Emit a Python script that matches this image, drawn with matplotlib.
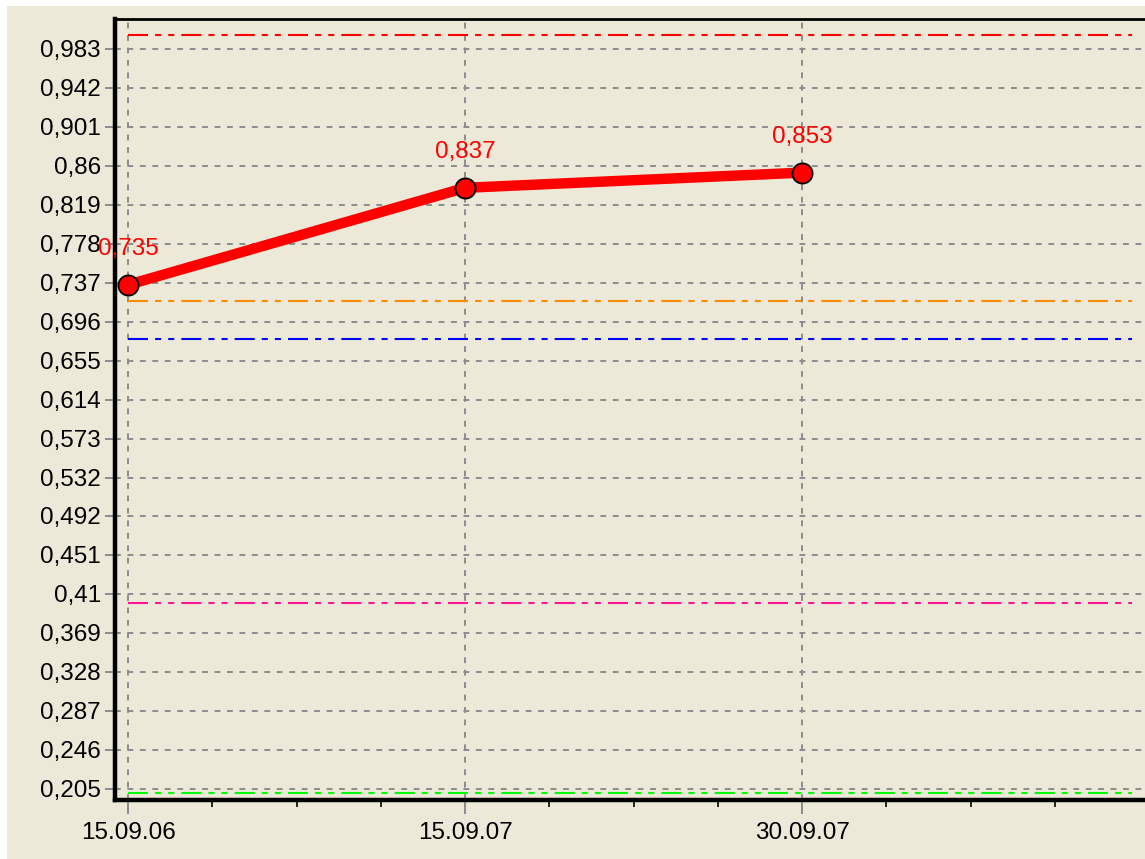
import matplotlib
matplotlib.use("Agg")
from matplotlib import pyplot as plt
from matplotlib.patches import Rectangle
from matplotlib.ticker import FixedLocator

# data
dates = ["15.09.06", "15.09.07", "30.09.07"]
values = [0.735, 0.837, 0.853]
ytick_values = [0.205, 0.246, 0.287, 0.328, 0.369, 0.41, 0.451, 0.492, 0.532,
                0.573, 0.614, 0.655, 0.696, 0.737, 0.778, 0.819, 0.86, 0.901,
                0.942, 0.983]
ref_levels = [0.998, 0.718, 0.678, 0.4, 0.201]
ref_colors = ["#ff0000", "#ff8c00", "#0000ff", "#ff1493", "#00ff00"]

plt.rcParams["font.family"] = ["Liberation Sans", "DejaVu Sans"]

fig = plt.figure(figsize=(11.45, 8.59), dpi=100)
fig.patch.set_facecolor("#ece9d8")
# white strips at top and left of the screenshot
fig.add_artist(Rectangle((0, 1 - 6 / 859), 1, 6 / 859, transform=fig.transFigure,
                         facecolor="white", edgecolor="none"))
fig.add_artist(Rectangle((0, 0), 7 / 1145, 1, transform=fig.transFigure,
                         facecolor="white", edgecolor="none"))

ax = fig.add_axes([115 / 1145, 59 / 859, 1045 / 1145, 781 / 859])
ax.set_facecolor("#ece9d8")

x = list(range(len(dates)))
ax.set_xlim(-0.0386, 3.062)
ax.set_ylim(0.1934, 1.0145)

# grid
dash = (0, (3.0, 3.4))
for yv in ytick_values:
    ax.axhline(yv, color="#8c8c8c", lw=1.4, linestyle=dash, zorder=1)
for xv in x:
    ax.axvline(xv, color="#8c8c8c", lw=1.4, linestyle=dash, zorder=1)

# reference lines
dashdot = (0, (9.6, 3.4, 2.9, 3.4, 2.9, 3.4))
for lvl, c in zip(ref_levels, ref_colors):
    ax.hlines(lvl, 0, 2.98, color=c, lw=1.5, linestyle=dashdot, zorder=2)

# series
ax.plot(x, values, color="#ff0000", lw=7.5, zorder=3, solid_capstyle="butt")
ax.plot(x, values, "o", color="#ff0000", markersize=14.5, markeredgecolor="black",
        markeredgewidth=1.3, zorder=4)
for xi, v in zip(x, values):
    ax.annotate(("%.3f" % v).replace(".", ","), (xi, v), xytext=(0, 26),
                textcoords="offset points", ha="center", va="center",
                color="#ff0000", fontsize=17.5, zorder=5)

# ticks
ax.yaxis.set_major_locator(FixedLocator(ytick_values))
ax.set_yticklabels([("%g" % t).replace(".", ",") for t in ytick_values])
ax.xaxis.set_major_locator(FixedLocator(x))
ax.set_xticklabels(dates)
ax.xaxis.set_minor_locator(FixedLocator([i / 4 for i in range(1, 12) if i % 4]))
ax.tick_params(axis="y", which="major", length=7, width=1.4, color="#8c8c8c",
               labelsize=17.5, pad=3)
ax.tick_params(axis="x", which="major", length=10, width=1.4, color="#8c8c8c",
               labelsize=17.5, pad=6)
ax.tick_params(axis="x", which="minor", length=5, width=1.2, color="black")

for side in ["left", "bottom"]:
    ax.spines[side].set_linewidth(3.2)
ax.spines["top"].set_linewidth(2)
ax.spines["right"].set_visible(False)

fig.savefig("out.png", dpi=100, facecolor=fig.get_facecolor())
